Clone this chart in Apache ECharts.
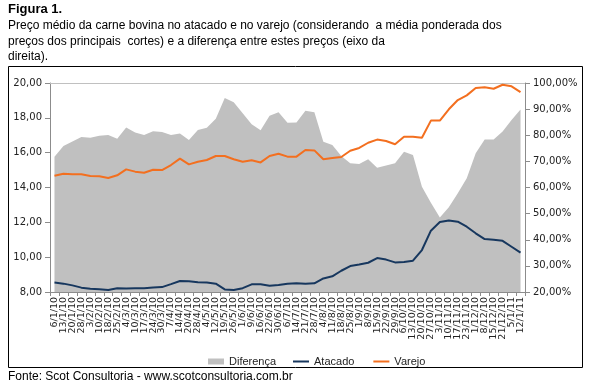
<!DOCTYPE html>
<html>
<head>
<meta charset="utf-8">
<script src="https://cdn.jsdelivr.net/npm/echarts@6/dist/echarts.min.js"></script>
<style>
html,body{margin:0;padding:0;background:#fff;}
#chart{width:591px;height:392px;}
</style>
</head>
<body>
<div id="chart"></div>
<script>
const categories = ['6/1/10','13/1/10','20/1/10','28/1/10','3/2/10','10/2/10','18/2/10','25/2/10','4/3/10','10/3/10','17/3/10','24/3/10','30/3/10','7/4/10','14/4/10','20/4/10','28/4/10','4/5/10','12/5/10','19/5/10','26/5/10','1/6/10','9/6/10','16/6/10','22/6/10','30/6/10','6/7/10','14/7/10','21/7/10','28/7/10','4/8/10','11/8/10','18/8/10','25/8/10','1/9/10','8/9/10','15/9/10','22/9/10','29/9/10','6/10/10','13/10/10','20/10/10','27/10/10','3/11/10','10/11/10','17/11/10','23/11/10','1/12/10','8/12/10','15/12/10','21/12/10','5/1/11','12/1/11'];

const diferenca = [71.8, 75.9, 77.6, 79.3, 79.0, 79.8, 80.1, 78.7, 83.0, 81.1,
  80.1, 81.5, 81.2, 80.1, 80.7, 78.2, 82.0, 82.9, 86.3, 94.3,
  92.6, 88.4, 84.2, 81.9, 87.5, 88.8, 84.8, 84.9, 89.4, 88.8,
  77.5, 76.3, 72.1, 69.3, 69.0, 70.8, 67.6, 68.4, 69.3, 73.7,
  72.4, 60.3, 54.2, 48.5, 52.4, 57.8, 63.5, 73.1, 78.4, 78.4,
  81.4, 85.8, 89.9];

const atacado = [8.54, 8.48, 8.38, 8.25, 8.19, 8.16, 8.12, 8.22, 8.20, 8.21,
  8.22, 8.26, 8.28, 8.45, 8.63, 8.62, 8.56, 8.54, 8.48, 8.15,
  8.11, 8.22, 8.44, 8.44, 8.36, 8.40, 8.48, 8.50, 8.48, 8.50,
  8.78, 8.90, 9.22, 9.49, 9.58, 9.68, 9.95, 9.86, 9.70, 9.72,
  9.80, 10.41, 11.52, 12.02, 12.11, 12.04, 11.75, 11.37, 11.04, 11.00,
  10.94, 10.60, 10.26];

const varejo = [14.68, 14.79, 14.76, 14.76, 14.66, 14.64, 14.55, 14.70, 15.04, 14.91,
  14.85, 15.02, 15.00, 15.29, 15.66, 15.33, 15.48, 15.58, 15.81, 15.81,
  15.62, 15.48, 15.56, 15.44, 15.81, 15.94, 15.77, 15.77, 16.15, 16.13,
  15.62, 15.69, 15.75, 16.11, 16.27, 16.57, 16.75, 16.67, 16.48, 16.92,
  16.92, 16.86, 17.84, 17.84, 18.49, 19.02, 19.29, 19.71, 19.75, 19.67,
  19.90, 19.81, 19.48];

const seriesNames = ['Diferença', 'Atacado', 'Varejo'];
const figureLabel = 'Figura 1.';
const titleLines = [
  'Preço médio da carne bovina no atacado e no varejo (considerando  a média ponderada dos',
  'preços dos principais  cortes) e a diferença entre estes preços (eixo da',
  'direita).'
];
const sourceText = 'Fonte: Scot Consultoria - www.scotconsultoria.com.br';

const chart = echarts.init(document.getElementById('chart'), null, {renderer: 'canvas'});
const axisFont = 'DejaVu Sans';
const txtFont = 'Liberation Sans';

const option = {
  backgroundColor: '#fff',
  animation: false,
  graphic: [
    {type: 'text', left: 8, top: 3, style: {text: figureLabel, font: 'bold 13px ' + txtFont, fill: '#000'}},
    {type: 'text', left: 8, top: 20, style: {text: titleLines[0], font: '12px ' + txtFont, fill: '#000'}},
    {type: 'text', left: 8, top: 36, style: {text: titleLines[1], font: '12px ' + txtFont, fill: '#000'}},
    {type: 'text', left: 8, top: 51, style: {text: titleLines[2], font: '12px ' + txtFont, fill: '#000'}},
    {type: 'rect', shape: {x: 8.5, y: 66.5, width: 574, height: 301}, style: {fill: 'none', stroke: '#000', lineWidth: 1}, z: 0},
    {type: 'text', left: 8, top: 371, style: {text: sourceText, font: '12px ' + txtFont, fill: '#000'}}
  ],
  legend: [
    {
      left: 203, top: 351,
      itemWidth: 16, itemHeight: 6,
      textStyle: {fontFamily: txtFont, fontSize: 11, color: '#222'},
      data: [{name: seriesNames[0], icon: 'rect'}]
    },
    {
      left: 288, top: 351,
      itemWidth: 16, itemHeight: 2, itemGap: 19,
      textStyle: {fontFamily: txtFont, fontSize: 11, color: '#222'},
      data: [{name: seriesNames[1], icon: 'rect'}, {name: seriesNames[2], icon: 'rect'}]
    }
  ],
  grid: {left: 50, right: 66, top: 83, bottom: 100, containLabel: false},
  xAxis: [
    {
      type: 'category', data: categories, boundaryGap: true, position: 'bottom',
      axisLine: {lineStyle: {color: '#8c8c8c', width: 1}},
      axisTick: {show: true, length: 4, lineStyle: {color: '#8c8c8c'}},
      axisLabel: {interval: 0, rotate: 90, fontSize: 9.5, fontFamily: axisFont, color: '#222', margin: 5},
      splitLine: {show: false}
    },
    {
      type: 'category', data: categories, boundaryGap: true, position: 'top',
      axisLine: {show: true, lineStyle: {color: '#c0c0c0', width: 1}},
      axisTick: {show: false}, axisLabel: {show: false}, splitLine: {show: false}
    }
  ],
  yAxis: [
    {
      type: 'value', min: 8, max: 20, interval: 2, position: 'left',
      axisLine: {show: true, lineStyle: {color: '#8c8c8c'}},
      axisTick: {show: true, length: 5, lineStyle: {color: '#8c8c8c'}},
      axisLabel: {fontSize: 10, fontFamily: axisFont, color: '#222', margin: 8,
        formatter: v => v.toFixed(2).replace('.', ',')},
      splitLine: {show: false}
    },
    {
      type: 'value', min: 20, max: 100, interval: 10, position: 'right',
      axisLine: {show: true, lineStyle: {color: '#8c8c8c'}},
      axisTick: {show: true, length: 5, lineStyle: {color: '#8c8c8c'}},
      axisLabel: {fontSize: 10, fontFamily: axisFont, color: '#222', margin: 8,
        formatter: v => v.toFixed(2).replace('.', ',') + '%'},
      splitLine: {show: false}
    }
  ],
  series: [
    {
      name: seriesNames[0], type: 'line', yAxisIndex: 1, data: diferenca,
      symbol: 'none', color: '#c0c0c0',
      lineStyle: {width: 0, color: '#c0c0c0'},
      areaStyle: {color: '#c0c0c0', opacity: 1, origin: 'start'},
      z: 1
    },
    {
      name: seriesNames[1], type: 'line', yAxisIndex: 0, data: atacado,
      symbol: 'none', color: '#17375e',
      lineStyle: {width: 2, color: '#17375e'}, z: 3
    },
    {
      name: seriesNames[2], type: 'line', yAxisIndex: 0, data: varejo,
      symbol: 'none', color: '#f36f1f',
      lineStyle: {width: 2, color: '#f36f1f'}, z: 3
    }
  ]
};
chart.setOption(option);
</script>
</body>
</html>
